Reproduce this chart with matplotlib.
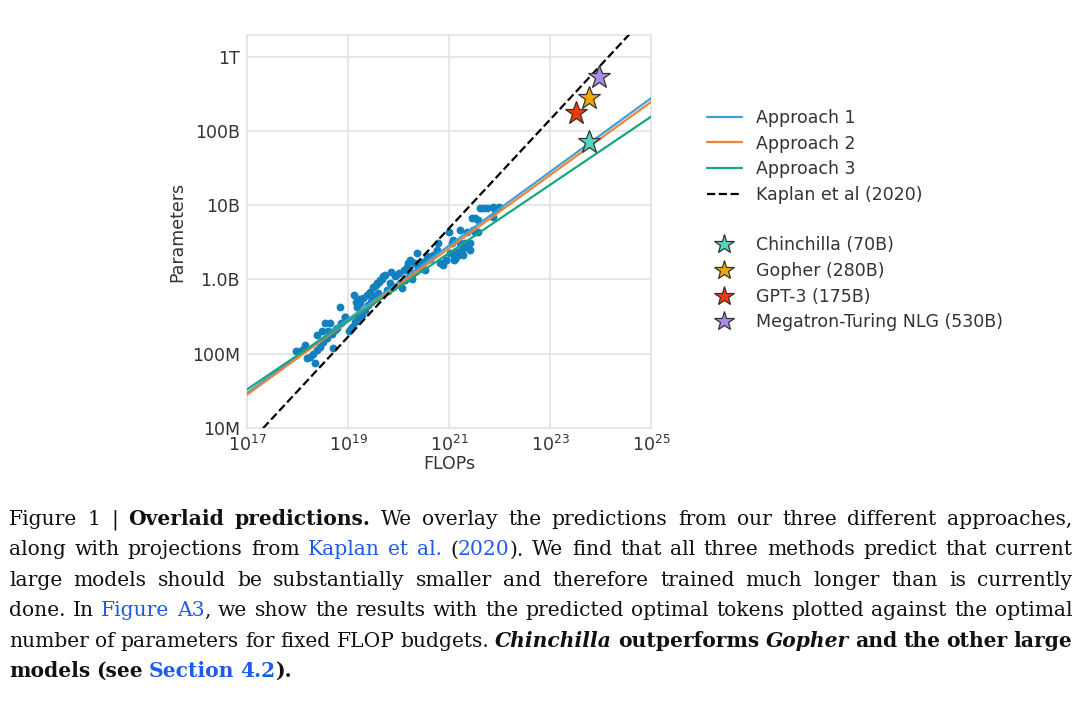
import numpy as np
import matplotlib
matplotlib.use("Agg")
import matplotlib.pyplot as plt
import seaborn as sns
from matplotlib.lines import Line2D

# approach 1 points, log10 of FLOPs and parameters
flops_exp = [17.98, 18.08, 18.15, 18.18, 18.25, 18.31, 18.35, 18.38, 18.45, 18.48,
             18.38, 18.51, 18.58, 18.54, 18.64, 18.68, 18.71, 18.74, 18.78, 18.84,
             18.87, 18.94, 19.01, 19.04, 19.07, 19.11, 19.14, 19.17, 19.20, 19.24,
             19.27, 19.30, 19.34, 19.37, 19.40, 19.44, 19.47, 19.50, 19.53, 19.57,
             19.60, 19.63, 19.67, 19.70, 19.73, 19.77, 19.83, 19.90, 19.93, 19.96,
             20.00, 20.03, 20.06, 20.10, 20.13, 20.16, 20.19, 20.23, 20.26, 20.29,
             20.33, 20.36, 20.39, 20.43, 20.46, 20.49, 20.52, 20.56, 20.62, 20.69,
             20.76, 20.79, 20.82, 20.89, 20.95, 20.99, 21.02, 21.05, 21.09, 21.12,
             21.15, 21.18, 21.22, 21.25, 21.28, 21.32, 21.35, 21.42, 21.45, 21.48,
             21.52, 21.58, 21.61, 21.68, 21.75, 21.94, 21.88, 21.91,
             21.87, 21.99, 21.57, 21.35, 21.51, 21.08, 21.22, 21.15, 21.28, 21.35,
             20.95, 21.09, 21.28, 21.42,
             19.16, 19.22, 19.55, 19.62, 19.86, 19.80, 20.20, 18.60, 18.95, 19.45]
params_exp = [8.03, 8.05, 8.12, 7.94, 7.96, 8.00, 7.87, 8.05, 8.09, 8.30,
              8.25, 8.16, 8.21, 8.41, 8.41, 8.27, 8.07, 8.32, 8.34, 8.63,
              8.41, 8.50, 8.30, 8.32, 8.36, 8.79, 8.43, 8.63, 8.48, 8.68,
              8.52, 8.75, 8.59, 8.79, 8.66, 8.83, 8.72, 8.90, 8.77, 8.95,
              8.81, 8.99, 9.01, 9.04, 9.06, 8.86, 8.95, 8.90, 9.04, 9.06,
              9.08, 8.95, 8.88, 9.13, 8.99, 9.17, 9.22, 9.26, 9.01, 9.08,
              9.22, 9.35, 9.15, 9.22, 9.17, 9.24, 9.13, 9.31, 9.28, 9.33,
              9.40, 9.49, 9.22, 9.19, 9.26, 9.64, 9.35, 9.49, 9.26, 9.28,
              9.31, 9.37, 9.66, 9.40, 9.44, 9.49, 9.44, 9.49, 9.82, 9.66,
              9.82, 9.64, 9.96, 9.96, 9.96, 9.96, 9.84, 9.93,
              9.97, 9.98, 9.80, 9.64, 9.64, 9.53, 9.49, 9.37, 9.42, 9.46,
              9.26, 9.28, 9.33, 9.40,
              8.70, 8.74, 8.93, 8.96, 9.10, 8.84, 9.05, 8.30, 8.50, 8.70]

# fitted lines, values at both ends of the FLOP range
line_flops = [1e17, 1e25]
approach1 = [2.95e7, 2.75e11]
approach2 = [2.8e7, 2.45e11]
approach3 = [3.3e7, 1.55e11]
kaplan = [5.8e6, 4.1e12]

models = ["Chinchilla (70B)", "Gopher (280B)", "GPT-3 (175B)", "Megatron-Turing NLG (530B)"]
model_flops = [5.8e23, 6.0e23, 3.2e23, 9.4e23]
model_params = [70e9, 280e9, 175e9, 530e9]
model_colors = ["#4fd6bd", "#f5a500", "#f03a00", "#a98ce6"]

yticks = [1e7, 1e8, 1e9, 1e10, 1e11, 1e12]
ytick_labels = ["10M", "100M", "1.0B", "10B", "100B", "1T"]
xticks = [1e17, 1e19, 1e21, 1e23, 1e25]
xtick_labels = ["$10^{17}$", "$10^{19}$", "$10^{21}$", "$10^{23}$", "$10^{25}$"]

sns.set_style("whitegrid")
plt.rcParams["font.family"] = ["DejaVu Sans"]
gray_text = "#333333"
fs = 12.5

fig = plt.figure(figsize=(10.8, 7.12), dpi=100)
ax = fig.add_axes([0.2287, 0.399, 0.3741, 0.5518])

ax.scatter(10 ** np.array(flops_exp), 10 ** np.array(params_exp), s=32,
           color="#1480bd", linewidths=0, zorder=2)
ax.plot(line_flops, approach1, color="#3ba2d9", lw=1.6, zorder=3)
ax.plot(line_flops, approach2, color="#ee8536", lw=1.6, zorder=3)
ax.plot(line_flops, approach3, color="#17a683", lw=1.6, zorder=3)
ax.plot(line_flops, kaplan, color="black", lw=1.6, ls="--", zorder=3)
for f, p, c in zip(model_flops, model_params, model_colors):
    ax.plot(f, p, ls="", marker="*", markersize=17, mfc=c, mec="#333333", mew=0.9, zorder=4)

ax.set_xscale("log")
ax.set_yscale("log")
ax.set_xlim(1e17, 1e25)
ax.set_ylim(1e7, 1.95e12)
ax.set_xticks(xticks)
ax.set_xticklabels(xtick_labels)
ax.set_yticks(yticks)
ax.set_yticklabels(ytick_labels)
ax.minorticks_off()
ax.tick_params(labelsize=fs, colors=gray_text, length=0, pad=5)
ax.grid(True, color="#e3e3e3", lw=1.2)
for s in ax.spines.values():
    s.set_color("#e3e3e3")
    s.set_linewidth(1.2)
ax.set_xlabel("FLOPs", fontsize=fs, color=gray_text, labelpad=0)
ax.set_ylabel("Parameters", fontsize=fs, color=gray_text, labelpad=4)

line_handles = [
    Line2D([], [], color="#3ba2d9", lw=1.6, label="Approach 1"),
    Line2D([], [], color="#ee8536", lw=1.6, label="Approach 2"),
    Line2D([], [], color="#17a683", lw=1.6, label="Approach 3"),
    Line2D([], [], color="black", lw=1.6, ls="--", label="Kaplan et al (2020)"),
]
star_handles = [Line2D([], [], ls="", marker="*", markersize=15, mfc=c, mec="#333333",
                       mew=0.9, label=m) for m, c in zip(models, model_colors)]
leg_kw = dict(loc="upper left", bbox_transform=fig.transFigure, frameon=False,
              fontsize=fs, labelcolor=gray_text, labelspacing=0.44, handlelength=2.0,
              handletextpad=0.8, borderpad=0, borderaxespad=0)
leg1 = ax.legend(handles=line_handles, bbox_to_anchor=(0.6546, 0.847), **leg_kw)
ax.add_artist(leg1)
ax.legend(handles=star_handles, bbox_to_anchor=(0.6546, 0.668), **leg_kw)

# caption below the chart, justified line by line
ink = "#111111"
link = "#1f5bea"
styles = {
    "n": dict(weight="normal", style="normal", color=ink),
    "b": dict(weight="bold", style="normal", color=ink),
    "bi": dict(weight="bold", style="italic", color=ink),
    "l": dict(weight="normal", style="normal", color=link),
    "lb": dict(weight="bold", style="normal", color=link),
}
caption = [
    [("Figure 1 | ", "n"), ("Overlaid predictions.", "b"),
     (" We overlay the predictions from our three different approaches,", "n")],
    [("along with projections from ", "n"), ("Kaplan et al.", "l"), (" (", "n"), ("2020", "l"),
     ("). We find that all three methods predict that current", "n")],
    [("large models should be substantially smaller and therefore trained much longer than is currently", "n")],
    [("done. In ", "n"), ("Figure A3", "l"),
     (", we show the results with the predicted optimal tokens plotted against the optimal", "n")],
    [("number of parameters for fixed FLOP budgets. ", "n"), ("Chinchilla", "bi"),
     (" outperforms ", "b"), ("Gopher", "bi"), (" and the other large", "b")],
    [("models (see ", "b"), ("Section 4.2", "lb"), (").", "b")],
]
cap_fs = 14.6
cap_family = "DejaVu Serif"
left_px, right_px = 9, 1072
first_base, line_step = 525, 30.4
W, H = 1080, 712


def words_of(line):
    words = [[]]
    for txt, st in line:
        for i, part in enumerate(txt.split(" ")):
            if i > 0:
                words.append([])
            if part:
                words[-1].append((part, st))
    return [w for w in words if w]


renderer = fig.canvas.get_renderer()
for k, line in enumerate(caption):
    y = 1 - (first_base + k * line_step) / H
    placed = []
    for word in words_of(line):
        pieces = []
        for part, st in word:
            t = fig.text(0, y, part, fontsize=cap_fs, family=cap_family,
                         va="baseline", ha="left", **styles[st])
            pieces.append((t, t.get_window_extent(renderer).width))
        placed.append(pieces)
    widths = [sum(w for _, w in p) for p in placed]
    if k < len(caption) - 1:
        gap = (right_px - left_px - sum(widths)) / (len(placed) - 1)
    else:
        gap = cap_fs * 100 / 72 * 0.3
    x = left_px
    for pieces, ww in zip(placed, widths):
        xx = x
        for t, w in pieces:
            t.set_x(xx / W)
            xx += w
        x += ww + gap

fig.savefig("out.png", dpi=100)
